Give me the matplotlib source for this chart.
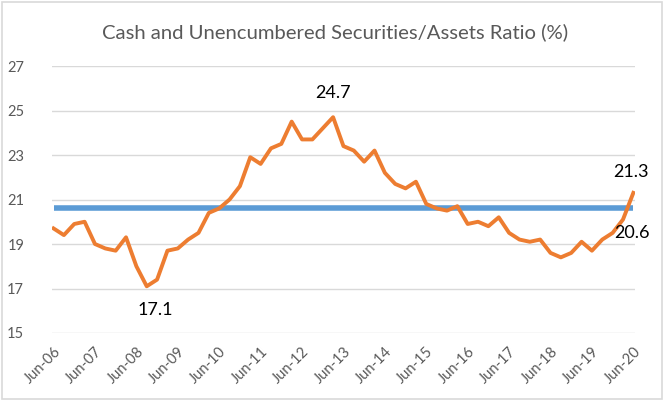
import matplotlib.pyplot as plt
from matplotlib.patches import Rectangle

plt.rcParams['font.family'] = ['Lato', 'DejaVu Sans']

# quarterly ratio, Jun-06 .. Jun-20
ratio = [19.7, 19.4, 19.9, 20.0, 19.0, 18.8, 18.7, 19.3, 18.0, 17.1,
         17.4, 18.7, 18.8, 19.2, 19.5, 20.4, 20.6, 21.0, 21.6, 22.9,
         22.6, 23.3, 23.5, 24.5, 23.7, 23.7, 24.2, 24.7, 23.4, 23.2,
         22.7, 23.2, 22.2, 21.7, 21.5, 21.8, 20.8, 20.6, 20.5, 20.7,
         19.9, 20.0, 19.8, 20.2, 19.5, 19.2, 19.1, 19.2, 18.6, 18.4,
         18.6, 19.1, 18.7, 19.2, 19.5, 20.1, 21.3]
average = 20.6
years = ['Jun-06', 'Jun-07', 'Jun-08', 'Jun-09', 'Jun-10', 'Jun-11', 'Jun-12',
         'Jun-13', 'Jun-14', 'Jun-15', 'Jun-16', 'Jun-17', 'Jun-18', 'Jun-19', 'Jun-20']

x = list(range(len(ratio)))

fig = plt.figure(figsize=(6.7, 4.03), dpi=100)
fig.patches.append(Rectangle((0.003, 0.01), 0.985, 0.985, transform=fig.transFigure,
                             fill=False, edgecolor='#d9d9d9', linewidth=1.2))
ax = fig.add_axes([0.0776, 0.1737, 0.870, 0.6625])

ax.plot([x[0], x[-1]], [average, average], color='#5b9bd5', linewidth=4, solid_capstyle='butt')
ax.plot(x, ratio, color='#ed7d31', linewidth=2.8)

ax.set_ylim(15, 27)
ax.set_yticks([15, 17, 19, 21, 23, 25, 27])
ax.set_xlim(-0.15, 56.15)
ax.set_xticks(x[::4])
ax.set_xticklabels(years, rotation=45, ha='right', rotation_mode='anchor')
ax.tick_params(length=0, labelsize=10.5, labelcolor='#595959')
ax.tick_params(axis='y', pad=20)
ax.tick_params(axis='x', pad=8)
ax.grid(axis='y', color='#d9d9d9', linewidth=1)
ax.set_axisbelow(True)
for s in ax.spines.values():
    s.set_visible(False)

ax.text(27, 25.8, '24.7', fontsize=13, ha='center', va='center')
ax.text(9.8, 16.05, '17.1', fontsize=13, ha='center', va='center')
ax.text(55.8, 22.25, '21.3', fontsize=13, ha='center', va='center')
ax.text(55.9, 19.5, '20.6', fontsize=13, ha='center', va='center')

fig.text(0.5, 0.921, 'Cash and Unencumbered Securities/Assets Ratio (%)',
         fontsize=14.6, color='#595959', ha='center', va='center')

fig.savefig('out.png', dpi=100)
